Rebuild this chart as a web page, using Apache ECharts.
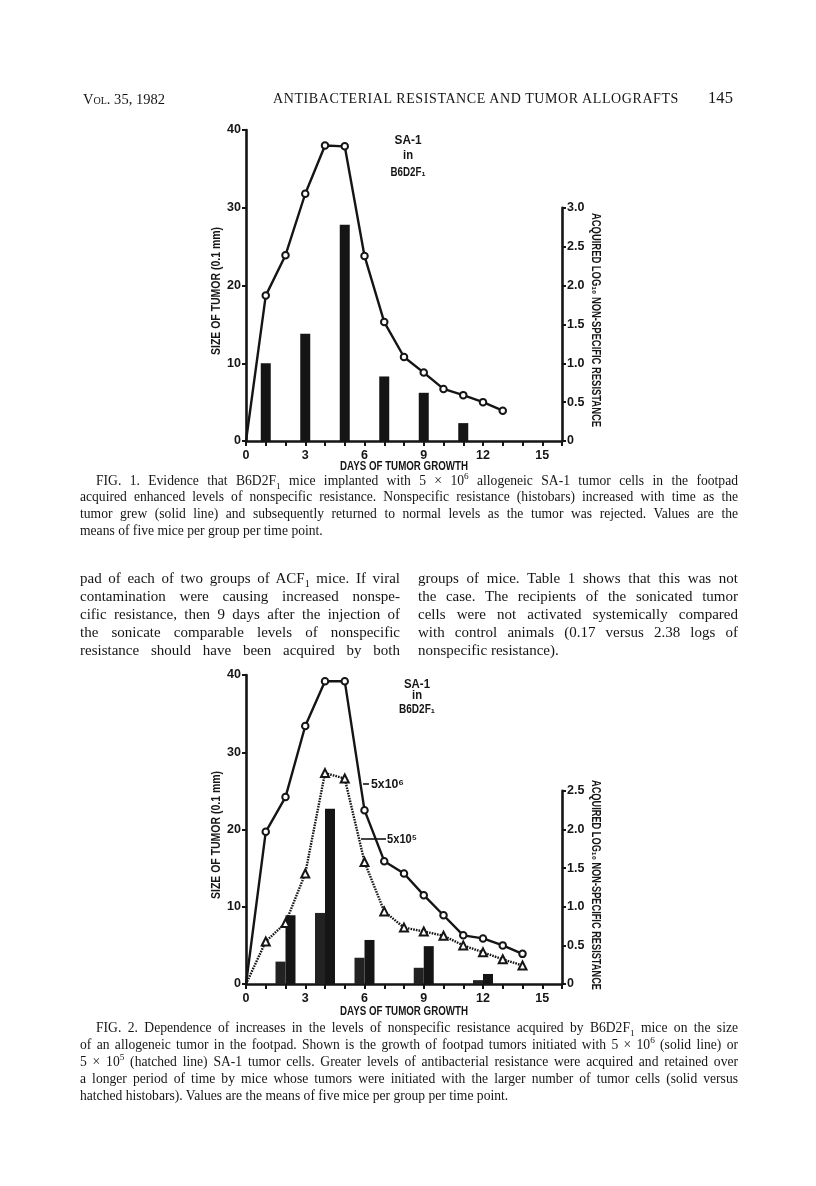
<!DOCTYPE html>
<html><head><meta charset="utf-8">
<script src="https://cdn.jsdelivr.net/npm/echarts@6/dist/echarts.min.js"></script>
<style>
html,body{margin:0;padding:0;background:#fff;}
#page{position:relative;width:816px;height:1186px;overflow:hidden;background:#fff;}
#chart{position:absolute;left:0;top:0;width:816px;height:1186px;}
.t{position:absolute;font-family:"Liberation Serif","Times New Roman",serif;color:#151515;white-space:nowrap;}
.t sub,.t sup{font-size:68%;line-height:0;}
</style></head><body>
<div id="page"><div id="chart"></div></div>
<script>
// ---------- DATA ----------
// Fig. 1
const fig1Days = [0,1,2,3,4,5,6,7,8,9,10,11,12,13];
const fig1Size = [0,18.7,23.9,31.8,38.0,37.9,23.8,15.3,10.8,8.8,6.7,5.9,5.0,3.9];
const fig1BarDays = [1,3,5,7,9,11];
const fig1Resist = [1.0,1.38,2.78,0.83,0.62,0.23];
// Fig. 2
const fig2Days = [0,1,2,3,4,5,6,7,8,9,10,11,12,13,14];
const fig2SizeHigh = [0,19.7,24.2,33.4,39.2,39.2,22.5,15.9,14.3,11.5,8.9,6.3,5.9,5.0,3.9];  // 5x10^6
const fig2SizeLow  = [0,5.5,7.9,14.3,27.3,26.6,15.8,9.4,7.3,6.8,6.25,5.0,4.1,3.2,2.4];     // 5x10^5
const fig2BarDays = [2,4,6,9,12];
const fig2ResistLow  = [0.29,0.92,0.34,0.21,0.05];   // hatched histobars (5x10^5)
const fig2ResistHigh = [0.89,2.27,0.57,0.49,0.13];   // solid histobars (5x10^6)
// Axes / tick labels
const xTickLabels = [0,3,6,9,12,15];
const leftTicks = [0,10,20,30,40];
const fig1RightMax = 3.0, fig2RightMax = 2.5;
const xName = 'DAYS OF TUMOR GROWTH';
const leftName = 'SIZE OF TUMOR (0.1 mm)';
const rightName = 'ACQUIRED LOG₁₀ NON-SPECIFIC RESISTANCE';
const inset = ['SA-1', 'in', 'B6D2F₁'];
const doseHigh = '5x10⁶', doseLow = '5x10⁵';

// ---------- TEXT ----------
const headerLeft = 'Vol. 35, 1982';
const headerTitle = 'ANTIBACTERIAL RESISTANCE AND TUMOR ALLOGRAFTS';
const headerPage = '145';
const caption1 = [
 'FIG. 1. Evidence that B6D2F<sub>1</sub> mice implanted with 5 × 10<sup>6</sup> allogeneic SA-1 tumor cells in the footpad',
 'acquired enhanced levels of nonspecific resistance. Nonspecific resistance (histobars) increased with time as the',
 'tumor grew (solid line) and subsequently returned to normal levels as the tumor was rejected. Values are the',
 'means of five mice per group per time point.'
];
const bodyLeft = [
 'pad of each of two groups of ACF<sub>1</sub> mice. If viral',
 'contamination were causing increased nonspe-',
 'cific resistance, then 9 days after the injection of',
 'the sonicate comparable levels of nonspecific',
 'resistance should have been acquired by both'
];
const bodyRight = [
 'groups of mice. Table 1 shows that this was not',
 'the case. The recipients of the sonicated tumor',
 'cells were not activated systemically compared',
 'with control animals (0.17 versus 2.38 logs of',
 'nonspecific resistance).'
];
const caption2 = [
 'FIG. 2. Dependence of increases in the levels of nonspecific resistance acquired by B6D2F<sub>1</sub> mice on the size',
 'of an allogeneic tumor in the footpad. Shown is the growth of footpad tumors initiated with 5 × 10<sup>6</sup> (solid line) or',
 '5 × 10<sup>5</sup> (hatched line) SA-1 tumor cells. Greater levels of antibacterial resistance were acquired and retained over',
 'a longer period of time by mice whose tumors were initiated with the larger number of tumor cells (solid versus',
 'hatched histobars). Values are the means of five mice per group per time point.'
];

// ---------- HTML TEXT ----------
const page = document.getElementById('page');
function addText(html, x, yc, size, lh, extra){
  const d = document.createElement('div');
  d.className = 't';
  d.style.left = x + 'px';
  d.style.top = (yc - lh/2) + 'px';
  d.style.fontSize = size + 'px';
  d.style.lineHeight = lh + 'px';
  if (extra) Object.assign(d.style, extra);
  d.innerHTML = html;
  page.appendChild(d);
  return d;
}
function fitLetters(d, target){
  const w = d.getBoundingClientRect().width;
  const n = d.textContent.length;
  d.style.letterSpacing = ((target - w) / n) + 'px';
}
function block(lines, x, y0, lh, width, size, indent, justifyLast){
  lines.forEach((s, i) => {
    const ind = i === 0 ? indent : 0;
    const d = addText(s, x + ind, y0 + i*lh, size, lh);
    if (i < lines.length - 1 || justifyLast){
      const w = d.getBoundingClientRect().width;
      const gaps = (d.textContent.match(/ /g) || []).length;
      if (gaps > 0) d.style.wordSpacing = ((width - ind - w) / gaps) + 'px';
    }
  });
}
fitLetters(addText(headerLeft, 83, 99, 14.5, 20, {fontVariant:'small-caps'}), 82);
fitLetters(addText(headerTitle, 273, 99, 14, 20), 406);
fitLetters(addText(headerPage, 708, 98, 16.5, 20), 25);
block(caption1, 80, 481, 16.7, 658, 13.6, 16, false);
block(bodyLeft, 80, 578, 18, 320, 15, 0, true);
block(bodyRight, 418, 578, 18, 320, 15, 0, false);
block(caption2, 80, 1027, 17, 658, 13.6, 16, false);

// ---------- CHART ----------
const FF = '"Liberation Sans","Arial",sans-serif';
const INK = '#151515';
const axisLine = {show:true, onZero:false, lineStyle:{color:INK, width:2.6}};
const axisTick = {show:true, length:5, lineStyle:{color:INK, width:2}};
const lbl = {color:INK, fontFamily:FF, fontWeight:'bold', fontSize:12.5};

function figure(idx, top, height, rightMax){
  const g0 = idx*2, g1 = idx*2+1;
  const rh = height * rightMax * 10 / 40;   // right 1.0 spans the same as left 10
  const grids = [
    {left:246, top:top, width:316, height:height},
    {left:246, top:top + height - rh, width:316, height:rh}
  ];
  const xAxes = [
    {gridIndex:g0, type:'value', min:0, max:16, interval:1,
     axisLine, axisTick:{...axisTick, inside:false},
     axisLabel:{...lbl, margin:8, formatter:v => xTickLabels.includes(v) ? String(v) : ''},
     splitLine:{show:false}},
    {gridIndex:g1, type:'value', min:0, max:16, show:false,
     axisLine:{show:false, onZero:false}, axisTick:{show:false}, axisLabel:{show:false}, splitLine:{show:false}}
  ];
  const yAxes = [
    {gridIndex:g0, type:'value', min:0, max:40, interval:10, position:'left',
     axisLine, axisTick:{...axisTick, length:4},
     axisLabel:{...lbl, margin:5, formatter:v => leftTicks.includes(v) ? String(v) : ''},
     splitLine:{show:false}},
    {gridIndex:g1, type:'value', min:0, max:rightMax, interval:0.5, position:'right',
     axisLine, axisTick:{...axisTick, length:4},
     axisLabel:{...lbl, margin:5, formatter:v => v === 0 ? '0' : v.toFixed(1)},
     splitLine:{show:false}}
  ];
  return {grids, xAxes, yAxes};
}
const f1 = figure(0, 130, 311, fig1RightMax);
const f2 = figure(1, 675, 309, fig2RightMax);

function lineData(days, vals){
  return days.map((d, i) => i === 0 ? {value:[d, vals[i]], symbol:'none'} : [d, vals[i]]);
}
const lineBase = {type:'line', z:5, animation:false, silent:true,
  lineStyle:{color:INK, width:2.4}, itemStyle:{color:INK, borderColor:INK, borderWidth:1.8}};

const series = [
  {...lineBase, xAxisIndex:0, yAxisIndex:0, symbol:'emptyCircle', symbolSize:6.5,
   data:lineData(fig1Days, fig1Size)},
  {type:'bar', xAxisIndex:1, yAxisIndex:1, z:2, animation:false, silent:true, barWidth:10,
   itemStyle:{color:INK}, data:fig1BarDays.map((d,i)=>[d, fig1Resist[i]])},
  {...lineBase, xAxisIndex:2, yAxisIndex:2, symbol:'emptyCircle', symbolSize:6.5,
   data:lineData(fig2Days, fig2SizeHigh)},
  {...lineBase, xAxisIndex:2, yAxisIndex:2, symbol:'emptyTriangle', symbolSize:8,
   lineStyle:{color:INK, width:2.4, type:[1.6,1.1]},
   data:lineData(fig2Days, fig2SizeLow)},
  {type:'bar', xAxisIndex:3, yAxisIndex:3, z:2, animation:false, silent:true, barWidth:10, barGap:'0%',
   itemStyle:{color:'#222'}, data:fig2BarDays.map((d,i)=>[d, fig2ResistLow[i]])},
  {type:'bar', xAxisIndex:3, yAxisIndex:3, z:2, animation:false, silent:true, barWidth:10, barGap:'0%',
   itemStyle:{color:INK}, data:fig2BarDays.map((d,i)=>[d, fig2ResistHigh[i]])}
];

// condensed bold labels: measured, then squeezed horizontally to the reference width
const mctx = document.createElement('canvas').getContext('2d');
function ctext(text, x, y, size, width, rot, align){
  const font = 'bold ' + size + 'px ' + FF;
  mctx.font = font;
  const sx = width / mctx.measureText(text).width;
  return {type:'text', x:x, y:y, rotation:rot || 0, scaleX:sx, z:10,
    style:{text:text, font:font, fill:INK, align:align || 'center', verticalAlign:'middle'}};
}
const graphic = [
  // Fig. 1
  ctext(xName, 404, 467, 12, 128),
  ctext(leftName, 217, 291, 12, 128, Math.PI/2),
  ctext(rightName, 595, 320, 12.5, 214, -Math.PI/2),
  ctext(inset[0], 408, 140, 13.5, 27), ctext(inset[1], 408, 156, 12.5, 10), ctext(inset[2], 408, 172, 13.5, 35),
  // Fig. 2
  ctext(xName, 404, 1012, 12, 128),
  ctext(leftName, 217, 835, 12, 128, Math.PI/2),
  ctext(rightName, 595, 885, 12.5, 210, -Math.PI/2),
  ctext(inset[0], 417, 684, 13.5, 26), ctext(inset[1], 417, 696, 12.5, 10), ctext(inset[2], 417, 709, 13.5, 36),
  {type:'line', shape:{x1:363, y1:784, x2:369, y2:784}, style:{stroke:INK, lineWidth:1.6}},
  ctext(doseHigh, 371, 785, 12.5, 33, 0, 'left'),
  {type:'line', shape:{x1:361, y1:839, x2:386, y2:839}, style:{stroke:INK, lineWidth:1.6}},
  ctext(doseLow, 387, 840, 12.5, 30, 0, 'left')
];

const chart = echarts.init(document.getElementById('chart'), null, {renderer:'canvas'});
chart.setOption({
  backgroundColor:'#fff',
  animation:false,
  grid:[...f1.grids, ...f2.grids],
  xAxis:[...f1.xAxes, ...f2.xAxes],
  yAxis:[...f1.yAxes, ...f2.yAxes],
  series,
  graphic
});
</script>
</body></html>
